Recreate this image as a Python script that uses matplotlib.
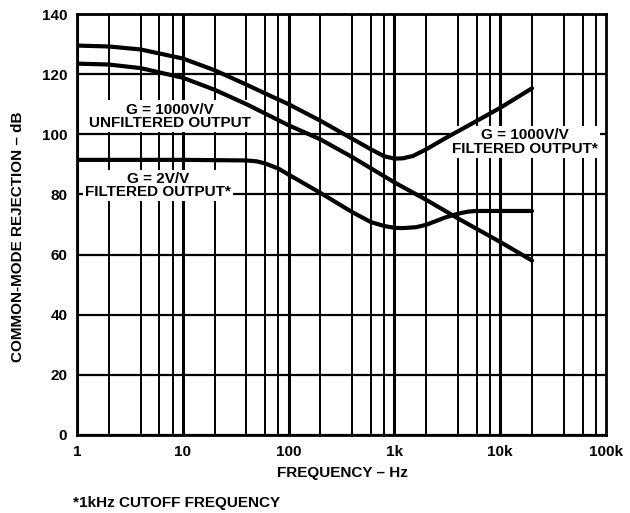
import matplotlib.pyplot as plt
from matplotlib.ticker import FixedLocator, FuncFormatter

plt.rcParams['font.family'] = ['Liberation Sans', 'DejaVu Sans']
plt.rcParams['font.weight'] = 'bold'

# G = 1000V/V, filtered output
f_top = [1, 2, 4, 10, 20, 40, 70, 100, 200, 400, 600, 800, 1000, 1200, 1500, 2000, 3000, 5000, 10000, 20000]
cmr_top = [129.5, 129.2, 128.2, 125.2, 121.3, 116.5, 112.5, 110, 104.5, 98.5, 95, 92.7, 91.9, 92.0, 92.8, 95.0, 98.6, 102.9, 108.8, 115.3]

# G = 1000V/V, unfiltered output
f_mid = [1, 2, 4, 10, 20, 40, 100, 200, 400, 1000, 2000, 4000, 10000, 20000]
cmr_mid = [123.5, 123.2, 122, 118.8, 114.8, 110, 103, 98.3, 92.4, 84, 78.2, 72, 64.2, 58]

# G = 2V/V, filtered output
f_low = [1, 10, 40, 50, 60, 80, 100, 200, 400, 600, 800, 1000, 1200, 1600, 2000, 3000, 4000, 5000, 6000, 20000]
cmr_low = [91.5, 91.5, 91.3, 91.0, 90.3, 88.6, 86.6, 80.5, 74.1, 70.8, 69.5, 68.9, 68.8, 69.1, 69.9, 72.3, 73.6, 74.3, 74.5, 74.5]

x_ticks = [1, 10, 100, 1000, 10000, 100000]
x_labels = ['1', '10', '100', '1k', '10k', '100k']
y_ticks = [0, 20, 40, 60, 80, 100, 120, 140]

fig = plt.figure(figsize=(6.3, 5.13), dpi=100)
ax = fig.add_axes([77 / 630, 1 - 435 / 513, 529 / 630, 421 / 513])

ax.set_xscale('log')
ax.set_xlim(1, 100000)
ax.set_ylim(0, 140)

# grid: decades heavy, 2/4/6/8 lighter, horizontal every 20 dB
for d in [1, 10, 100, 1000, 10000]:
    for m in [2, 4, 6, 8]:
        ax.axvline(d * m, color='black', lw=1.4, zorder=1)
    ax.axvline(d, color='black', lw=2.2, zorder=1)
for y in y_ticks:
    ax.axhline(y, color='black', lw=1.6, zorder=1)

for f, v in [(f_top, cmr_top), (f_mid, cmr_mid), (f_low, cmr_low)]:
    ax.plot(f, v, color='black', lw=3, solid_joinstyle='round', solid_capstyle='round', zorder=3)

ax.xaxis.set_major_locator(FixedLocator(x_ticks))
ax.xaxis.set_minor_locator(FixedLocator([]))
ax.xaxis.set_major_formatter(FuncFormatter(lambda v, p: x_labels[x_ticks.index(v)] if v in x_ticks else ''))
ax.set_yticks(y_ticks)
ax.tick_params(length=0, labelsize=11, pad=7)
for lab in ax.get_xticklabels() + ax.get_yticklabels():
    lab.set_fontweight('bold')

for s in ax.spines.values():
    s.set_linewidth(2)
    s.set_zorder(4)

box = dict(facecolor='white', edgecolor='none', pad=1.5)
ax.text(7.5, 106, 'G = 1000V/V\nUNFILTERED OUTPUT', ha='center', va='center', fontsize=11,
        fontweight='bold', linespacing=0.95, bbox=box, zorder=2)
ax.text(5.8, 83, 'G = 2V/V\nFILTERED OUTPUT*', ha='center', va='center', fontsize=11,
        fontweight='bold', linespacing=0.95, bbox=box, zorder=2)
ax.text(17000, 97.5, 'G = 1000V/V\nFILTERED OUTPUT*', ha='center', va='center', fontsize=11,
        fontweight='bold', linespacing=0.95, bbox=box, zorder=2)

fig.text(342 / 630, 1 - 473 / 513, 'FREQUENCY – Hz', ha='center', va='center', fontsize=11, fontweight='bold')
fig.text(18 / 630, 1 - 237 / 513, 'COMMON-MODE REJECTION – dB', ha='center', va='center', rotation=90,
         fontsize=11, fontweight='bold')
fig.text(73 / 630, 1 - 503 / 513, '*1kHz CUTOFF FREQUENCY', ha='left', va='center', fontsize=11, fontweight='bold')

fig.savefig('out.png', dpi=100)
